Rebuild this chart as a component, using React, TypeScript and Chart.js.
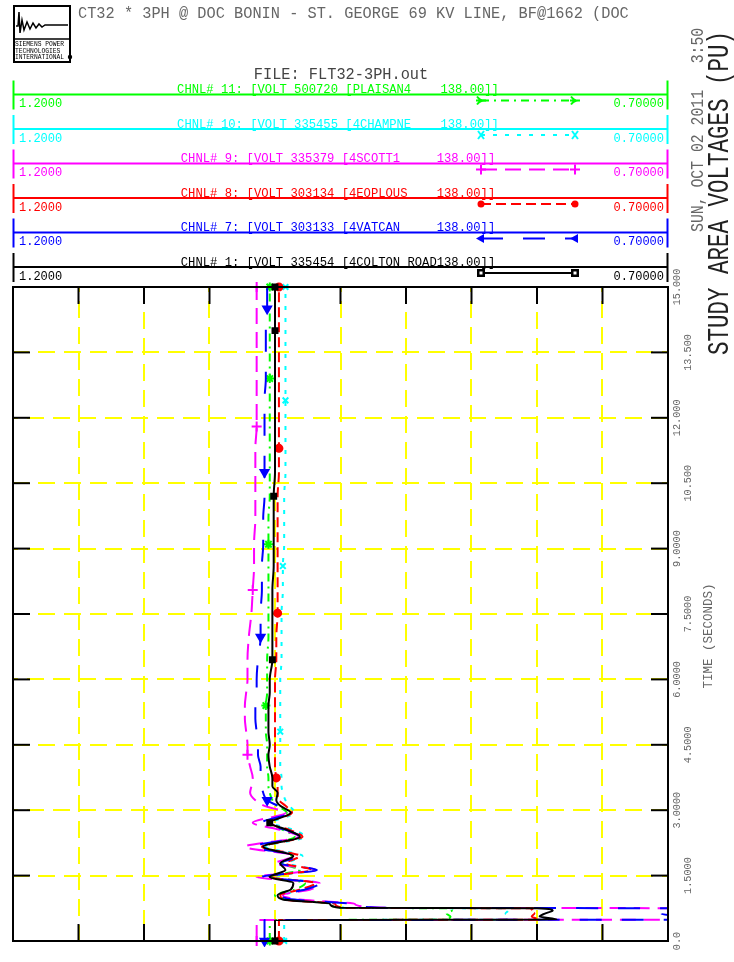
import React, { useEffect, useRef } from 'react';
import { Chart, registerables } from 'chart.js';

Chart.register(...registerables);

// ---------------- DATA ----------------
// simulation time (s)
const TIME = [
  0, 0.48, 0.49, 0.56, 0.63, 0.70, 0.75, 0.76,
  0.85, 0.95, 1.05, 1.18, 1.33, 1.47, 1.63, 1.78, 1.95, 2.16, 2.39, 2.55, 2.71, 2.94, 3.10, 3.23, 3.40, 3.55, 3.74,
  4.00, 4.27, 4.50, 4.80, 5.10, 5.40, 5.70, 6.00, 6.45, 6.97, 7.52, 8.05, 8.60, 9.10, 9.70, 10.20, 10.75, 11.30, 11.80, 12.40, 12.90, 13.50, 14.00, 14.50, 15.00,
];

// CHNL# 1  4COLTON ROAD (black)
const V_CH1 = [
  1.000, 1.000, 0.785, 0.798, 0.794, 0.788, 0.800, 0.950,
  0.958, 0.994, 0.998, 0.988, 0.986, 1.004, 0.992, 0.996, 0.986, 1.009, 0.981, 0.991, 1.004, 0.988, 0.996, 0.999, 0.998, 1.002, 1.002,
  1.004, 1.005, 1.004, 1.005, 1.005, 1.005, 1.004, 1.004, 1.002, 1.002, 1.002, 1.002, 1.001, 1.001, 1.001, 1.001, 1.000, 1.000, 1.000, 1.000, 1.000, 1.000, 1.000, 1.000, 1.000,
];
// CHNL# 7  4VATCAN (blue)
const V_CH7 = [
  1.008, 1.008, 0.680, 0.690, 0.705, 0.700, 0.690, 0.915,
  0.943, 0.985, 0.996, 0.977, 0.966, 1.010, 0.968, 0.996, 0.982, 1.017, 0.981, 0.992, 1.010, 0.989, 0.998, 1.006, 1.009, 1.010, 1.011,
  1.011, 1.013, 1.013, 1.014, 1.015, 1.015, 1.014, 1.014, 1.013, 1.011, 1.011, 1.010, 1.010, 1.009, 1.009, 1.008, 1.008, 1.008, 1.008, 1.008, 1.007, 1.007, 1.007, 1.006, 1.006,
];
// CHNL# 8  4EOPLOUS (red)
const V_CH8 = [
  0.997, 0.997, 0.798, 0.804, 0.802, 0.805, 0.803, 0.947,
  0.954, 0.992, 0.996, 0.981, 0.969, 1.005, 0.972, 0.992, 0.981, 1.010, 0.979, 0.989, 1.005, 0.987, 0.992, 0.997, 0.998, 0.998, 0.999,
  1.000, 1.000, 1.000, 1.000, 1.000, 1.000, 1.000, 1.000, 0.999, 0.999, 0.998, 0.998, 0.998, 0.998, 0.998, 0.998, 0.997, 0.997, 0.997, 0.997, 0.997, 0.997, 0.997, 0.997, 0.997,
];
// CHNL# 9  4SCOTT1 (magenta)
const V_CH9 = [
  1.014, 1.014, 0.600, 0.620, 0.640, 0.620, 0.620, 0.915,
  0.939, 0.981, 0.994, 0.973, 0.966, 1.014, 0.969, 1.000, 0.985, 1.023, 0.982, 0.996, 1.017, 0.992, 1.008, 1.015, 1.019, 1.018, 1.017,
  1.019, 1.021, 1.021, 1.022, 1.023, 1.023, 1.022, 1.021, 1.021, 1.020, 1.018, 1.017, 1.016, 1.016, 1.015, 1.015, 1.015, 1.015, 1.014, 1.014, 1.014, 1.014, 1.014, 1.014, 1.014,
];
// CHNL# 10  4CHAMPNE (cyan)
const V_CH10 = [
  0.993, 0.993, 0.824, 0.821, 0.824, 0.822, 0.824, 0.947,
  0.952, 0.989, 0.994, 0.977, 0.967, 1.002, 0.969, 0.990, 0.979, 1.007, 0.977, 0.986, 1.002, 0.985, 0.989, 0.992, 0.994, 0.995, 0.995,
  0.996, 0.996, 0.996, 0.996, 0.996, 0.996, 0.996, 0.996, 0.995, 0.995, 0.995, 0.994, 0.994, 0.993, 0.993, 0.993, 0.992, 0.992, 0.992, 0.992, 0.992, 0.992, 0.992, 0.992, 0.992,
];
// CHNL# 11  PLAISAN4 (green)
const V_CH11 = [
  1.004, 1.004, 0.870, 0.866, 0.869, 0.865, 0.868, 0.950,
  0.958, 0.989, 1.000, 0.985, 0.977, 1.004, 0.981, 0.994, 0.987, 1.008, 0.985, 0.994, 1.006, 0.991, 0.998, 1.002, 1.004, 1.005, 1.005,
  1.006, 1.006, 1.006, 1.007, 1.007, 1.007, 1.006, 1.006, 1.006, 1.005, 1.005, 1.005, 1.005, 1.005, 1.005, 1.004, 1.004, 1.004, 1.004, 1.004, 1.004, 1.004, 1.004, 1.004, 1.004,
];

// times at which the channel symbols are plotted
const MARKS_CH1 = [0, 2.71, 6.45, 10.20, 14.00, 15.00];
const MARKS_CH7 = [0, 3.23, 6.97, 10.75, 14.50];
const MARKS_CH8 = [0, 3.74, 7.52, 11.30, 15.00];
const MARKS_CH9 = [0, 4.27, 8.05, 11.80, 15.00];
const MARKS_CH10 = [0, 4.80, 8.60, 12.40, 15.00];
const MARKS_CH11 = [0, 5.40, 9.10, 12.90, 15.00];

const CH_LABELS = [
  'CHNL# 1: [VOLT 335454 [4COLTON ROAD138.00]]',
  'CHNL# 7: [VOLT 303133 [4VATCAN     138.00]]',
  'CHNL# 8: [VOLT 303134 [4EOPLOUS    138.00]]',
  'CHNL# 9: [VOLT 335379 [4SCOTT1     138.00]]',
  'CHNL# 10: [VOLT 335455 [4CHAMPNE    138.00]]',
  'CHNL# 11: [VOLT 500720 [PLAISAN4    138.00]]',
];

const TIME_TICK_LABELS = ['0.0', '1.5000', '3.0000', '4.5000', '6.0000', '7.5000', '9.0000', '10.500', '12.000', '13.500', '15.000'];
const TIME_MIN = 0;
const TIME_MAX = 15;
const TIME_STEP = 1.5;
const V_MIN = 0.7;
const V_MAX = 1.2;
const V_STEP = 0.05;

const TITLE = 'CT32 * 3PH @ DOC BONIN - ST. GEORGE 69 KV LINE, BF@1662 (DOC';
const FILE_LABEL = 'FILE: FLT32-3PH.out';
const PLOT_TITLE = 'STUDY AREA VOLTAGES (PU)';
const DATE_LABEL = 'SUN, OCT 02 2011   3:50';
const TIME_AXIS_TITLE = 'TIME (SECONDS)';
const LOGO_LINES = ['SIEMENS POWER', 'TECHNOLOGIES', 'INTERNATIONAL'];

// ---------------- STYLES ----------------
const SERIES = [
  { values: V_CH1, marks: MARKS_CH1, label: CH_LABELS[0], color: '#000000', dash: [], point: 'rect', r: 3.5, rot: 0, leg: 'sq' },
  { values: V_CH7, marks: MARKS_CH7, label: CH_LABELS[1], color: '#0000ff', dash: [22, 20], point: 'triangle', r: 4.5, rot: 180, leg: 'tri' },
  { values: V_CH8, marks: MARKS_CH8, label: CH_LABELS[2], color: '#ff0000', dash: [10, 5], point: 'circle', r: 3.5, rot: 0, leg: 'dot' },
  { values: V_CH9, marks: MARKS_CH9, label: CH_LABELS[3], color: '#ff00ff', dash: [16, 8], point: 'cross', r: 5, rot: 0, leg: 'plus' },
  { values: V_CH10, marks: MARKS_CH10, label: CH_LABELS[4], color: '#00ffff', dash: [4, 8], point: 'crossRot', r: 4, rot: 0, leg: 'x' },
  { values: V_CH11, marks: MARKS_CH11, label: CH_LABELS[5], color: '#00ff00', dash: [8, 5, 2, 5], point: 'star', r: 4.5, rot: 0, leg: 'fork' },
];
const LEGEND_ORDER = [5, 4, 3, 2, 1, 0];

const FONT = "'Liberation Mono', 'DejaVu Sans Mono', monospace";

function txt(ctx: CanvasRenderingContext2D, s: string, x: number, y: number, size: number, color: string,
  align: CanvasTextAlign = 'left', rotate = false, sy = 1) {
  ctx.save();
  ctx.translate(x, y);
  if (rotate) ctx.rotate(-Math.PI / 2);
  ctx.scale(1, sy);
  ctx.font = `${size}px ${FONT}`;
  ctx.fillStyle = color;
  ctx.textAlign = align;
  ctx.textBaseline = 'alphabetic';
  ctx.fillText(s, 0, 0);
  ctx.restore();
}

function line(ctx: CanvasRenderingContext2D, x1: number, y1: number, x2: number, y2: number) {
  ctx.beginPath();
  ctx.moveTo(x1, y1);
  ctx.lineTo(x2, y2);
  ctx.stroke();
}

function legendMarker(ctx: CanvasRenderingContext2D, kind: string, x: number, y: number, color: string) {
  ctx.save();
  ctx.setLineDash([]);
  ctx.strokeStyle = color;
  ctx.fillStyle = color;
  ctx.lineWidth = 2;
  ctx.beginPath();
  if (kind === 'sq') {
    ctx.fillRect(x - 4, y - 4, 8, 8);
    ctx.fillStyle = '#fff';
    ctx.fillRect(x - 1.5, y - 1.5, 3, 3);
  } else if (kind === 'dot') {
    ctx.arc(x, y, 3.5, 0, Math.PI * 2);
    ctx.fill();
  } else if (kind === 'tri') {
    ctx.moveTo(x - 5, y);
    ctx.lineTo(x + 3, y - 4.5);
    ctx.lineTo(x + 3, y + 4.5);
    ctx.closePath();
    ctx.fill();
  } else if (kind === 'plus') {
    ctx.moveTo(x - 5, y); ctx.lineTo(x + 5, y);
    ctx.moveTo(x, y - 5); ctx.lineTo(x, y + 5);
    ctx.stroke();
  } else if (kind === 'x') {
    ctx.moveTo(x - 3, y - 4); ctx.lineTo(x + 3, y + 4);
    ctx.moveTo(x + 3, y - 4); ctx.lineTo(x - 3, y + 4);
    ctx.stroke();
  } else if (kind === 'fork') {
    ctx.moveTo(x - 4, y - 4); ctx.quadraticCurveTo(x - 1, y, x + 3, y);
    ctx.moveTo(x - 4, y + 4); ctx.quadraticCurveTo(x - 1, y, x + 3, y);
    ctx.moveTo(x - 5, y); ctx.lineTo(x + 5, y);
    ctx.stroke();
  }
  ctx.restore();
}

const decorPlugin = {
  id: 'decor',
  beforeDatasetsDraw(chart: any) {
    const { ctx, chartArea: a, scales } = chart;
    const xs = scales.x;
    const ys = scales.y;
    ctx.save();
    ctx.strokeStyle = '#000';
    ctx.lineWidth = 2;
    ctx.setLineDash([]);
    const TL = 17;
    xs.ticks.forEach((t: any) => {
      if (Math.abs(t.value - V_MIN) < 1e-6 || Math.abs(t.value - V_MAX) < 1e-6) return;
      const px = xs.getPixelForValue(t.value);
      line(ctx, px, a.top, px, a.top + TL);
      line(ctx, px, a.bottom, px, a.bottom - TL);
    });
    ys.ticks.forEach((t: any) => {
      if (Math.abs(t.value - TIME_MIN) < 1e-6 || Math.abs(t.value - TIME_MAX) < 1e-6) return;
      const py = ys.getPixelForValue(t.value);
      line(ctx, a.left, py, a.left + TL, py);
      line(ctx, a.right, py, a.right - TL, py);
    });
    ctx.restore();
  },
  afterDraw(chart: any) {
    const { ctx, chartArea: a, scales } = chart;
    const xs = scales.x;
    const ys = scales.y;
    ctx.save();
    // plot frame
    ctx.strokeStyle = '#000';
    ctx.lineWidth = 2;
    ctx.setLineDash([]);
    ctx.strokeRect(a.left, a.top, a.right - a.left, a.bottom - a.top);

    // time tick labels (rotated, staggered)
    ys.ticks.forEach((t: any, i: number) => {
      const py = ys.getPixelForValue(t.value);
      const bx = i % 2 === 0 ? a.right + 12 : a.right + 23;
      txt(ctx, TIME_TICK_LABELS[i] ?? String(t.value), bx, py, 10.2, '#666', 'center', true);
    });
    txt(ctx, TIME_AXIS_TITLE, 712, 636, 12.5, '#666', 'center', true);
    txt(ctx, PLOT_TITLE, 728, 355, 22.5, '#222', 'left', true, 1.3);
    txt(ctx, DATE_LABEL, 703, 232, 14.8, '#666', 'left', true, 1.2);

    // header
    txt(ctx, TITLE, 78, 18, 15.3, '#666', 'left', false, 1.05);
    txt(ctx, FILE_LABEL, 341, 79, 15.3, '#444', 'center', false, 1.05);

    // logo
    ctx.strokeStyle = '#000';
    ctx.lineWidth = 2;
    ctx.strokeRect(14, 6, 56, 56);
    ctx.lineWidth = 1.5;
    line(ctx, 14, 39, 70, 39);
    ctx.beginPath();
    ctx.moveTo(16, 26);
    ctx.lineTo(18, 26); ctx.lineTo(19, 12); ctx.lineTo(20, 33); ctx.lineTo(22, 20);
    ctx.lineTo(24, 30); ctx.lineTo(27, 22); ctx.lineTo(30, 29); ctx.lineTo(33, 23);
    ctx.lineTo(36, 28); ctx.lineTo(39, 24); ctx.lineTo(42, 27); ctx.lineTo(45, 25); ctx.lineTo(68, 25);
    ctx.stroke();
    LOGO_LINES.forEach((s, i) => txt(ctx, s, 15, 46 + i * 6.5, 6.3, '#000', 'left', false, 1.0));
    ctx.fillStyle = '#000';
    ctx.beginPath();
    ctx.arc(70, 57, 2.2, 0, Math.PI * 2);
    ctx.fill();

    // channel legend rows
    const leftLbl = xs.max.toFixed(4);
    const rightLbl = xs.min.toFixed(5);
    LEGEND_ORDER.forEach((si, row) => {
      const s = SERIES[si];
      const ly = 94.5 + row * 34.5;
      ctx.strokeStyle = s.color;
      ctx.lineWidth = 2;
      ctx.setLineDash([]);
      line(ctx, a.left, ly, a.right, ly);
      line(ctx, a.left + 0.5, ly - 14, a.left + 0.5, ly + 15);
      line(ctx, a.right - 0.5, ly - 14, a.right - 0.5, ly + 15);
      txt(ctx, s.label, 338, ly - 1.5, 12.2, s.color, 'center');
      txt(ctx, leftLbl, 19, ly + 12.5, 12, s.color, 'left');
      txt(ctx, rightLbl, 664, ly + 12.5, 12, s.color, 'right');
      ctx.setLineDash(s.dash);
      line(ctx, 481, ly + 6, 575, ly + 6);
      ctx.setLineDash([]);
      legendMarker(ctx, s.leg, 481, ly + 6, s.color);
      legendMarker(ctx, s.leg, 575, ly + 6, s.color);
    });
    ctx.restore();
  },
};

export default function App() {
  const ref = useRef<HTMLCanvasElement>(null);
  useEffect(() => {
    if (!ref.current) return;
    const edgeX = (c: any) => c.tick && (Math.abs(c.tick.value - V_MIN) < 1e-6 || Math.abs(c.tick.value - V_MAX) < 1e-6);
    const edgeY = (c: any) => c.tick && (Math.abs(c.tick.value - TIME_MIN) < 1e-6 || Math.abs(c.tick.value - TIME_MAX) < 1e-6);
    const datasets = SERIES.map((s) => ({
      label: s.label,
      data: TIME.map((t, i) => ({ x: s.values[i], y: t })),
      showLine: true,
      borderColor: s.color,
      backgroundColor: s.color,
      borderWidth: 2,
      borderDash: s.dash,
      borderJoinStyle: 'round',
      cubicInterpolationMode: 'monotone',
      fill: false,
      pointStyle: s.point,
      pointRotation: s.rot,
      pointBackgroundColor: s.color,
      pointBorderColor: s.color,
      pointBorderWidth: 2,
      pointRadius: (c: any) => (s.marks.includes(TIME[c.dataIndex]) ? s.r : 0),
      pointHoverRadius: 0,
      clip: { left: 0, right: 0, top: 6, bottom: 6 },
    }));
    const chart = new Chart(ref.current, {
      type: 'scatter',
      data: { datasets },
      options: {
        animation: false,
        responsive: false,
        devicePixelRatio: 1,
        indexAxis: 'y',
        events: [],
        layout: { padding: { left: 13, top: 287, right: 66, bottom: 21 } },
        plugins: { legend: { display: false }, tooltip: { enabled: false }, title: { display: false } },
        scales: {
          x: {
            type: 'linear',
            min: V_MIN,
            max: V_MAX,
            reverse: true,
            ticks: { display: false, stepSize: V_STEP },
            grid: {
              drawTicks: false,
              lineWidth: 2,
              color: (c: any) => (edgeX(c) ? 'rgba(0,0,0,0)' : '#ffff00'),
            },
            border: { display: false, dash: [17, 9], dashOffset: (c: any) => (c.index % 2 ? 12 : 1) },
          },
          y: {
            type: 'linear',
            min: TIME_MIN,
            max: TIME_MAX,
            ticks: { display: false, stepSize: TIME_STEP },
            grid: {
              drawTicks: false,
              lineWidth: 2,
              color: (c: any) => (edgeY(c) ? 'rgba(0,0,0,0)' : '#ffff00'),
            },
            border: { display: false, dash: [17, 9], dashOffset: (c: any) => (c.index % 2 ? 1 : 12) },
          },
        },
      },
      plugins: [decorPlugin],
    } as any);
    return () => chart.destroy();
  }, []);
  return (
    <div style={{ position: 'absolute', left: 0, top: 0, width: 734, height: 962, background: '#fff' }}>
      <canvas ref={ref} width={734} height={962} style={{ display: 'block', width: 734, height: 962 }} />
    </div>
  );
}
